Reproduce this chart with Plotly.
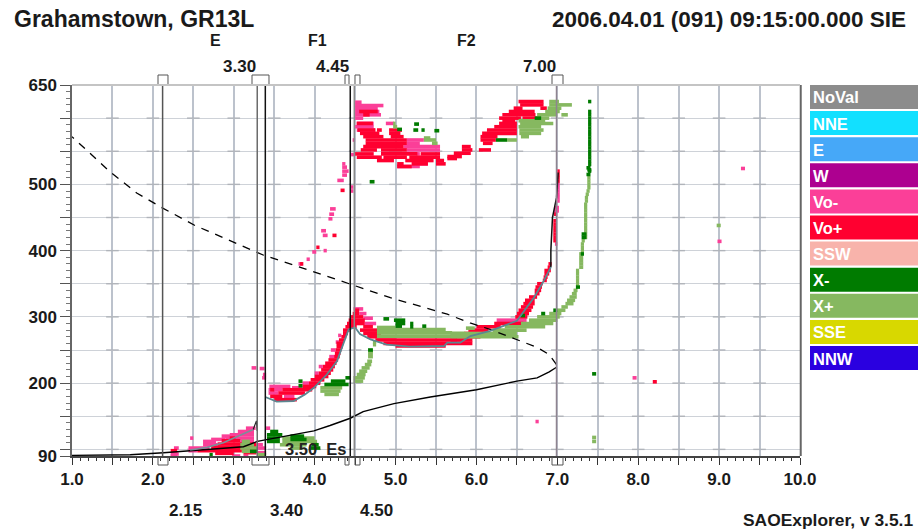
import plotly.graph_objects as go

# ---- data -------------------------------------------------------------
TITLE = "Grahamstown, GR13L"
STAMP = "2006.04.01 (091) 09:15:00.000 SIE"
FOOTER = "SAOExplorer, v 3.5.1"
X_TICKS = [1 + 0.5 * i for i in range(19)]
X_LABELS = ["%.1f" % v if v == int(v) else "" for v in X_TICKS]
Y_TICKS = [90] + [100 + 50 * i for i in range(12)]
Y_LABELS = {90: "90", 200: "200", 300: "300", 400: "400", 500: "500", 650: "650"}
LEGEND_NAMES = ["NoVal", "NNE", "E", "W", "Vo-", "Vo+", "SSW", "X-", "X+", "SSE", "NNW"]
LEGEND_COLORS = ["#8c8c8c", "#12e0ff", "#46a8f8", "#ad0090", "#fb3f98", "#ff0030",
                 "#f8b3ab", "#007b00", "#86b860", "#d8d800", "#2a00e0"]

# critical frequencies as drawn: (frequency, line colour)
CRITICAL = [(2.12, "#555555"), (3.29, "#6b6b6b"), (3.39, "#111111"),
            (4.44, "#111111"), (4.49, "#8a8a8a"), (6.99, "#8f8490")]

# echo rows: (virtual height km, f start MHz, f end MHz)
VO_MINUS = [
    # E layer
    (90,2.22,2.3),(93,2.22,2.32),(102,2.26,2.32),(117,2.46,2.5),(112,2.62,2.78),(107,2.62,2.8),
    (102,2.44,2.7),(98,2.44,2.55),(115,2.72,2.9),(120,2.85,3.0),(122,2.95,3.25),(127,3.05,3.25),
    (132,3.15,3.27),(117,2.9,3.25),(112,3.08,3.25),(90,2.98,3.08),(90,3.12,3.18),
    (102,3.3,3.4),(107,3.3,3.36),(95,3.3,3.4),(132,3.4,3.45),
    # low F
    (208,3.35,3.4),(213,3.36,3.4),(223,3.22,3.28),(222,3.32,3.38),
    (185,3.43,3.55),(190,3.43,3.6),(195,3.44,3.7),(193,3.72,3.85),(180,3.62,3.75),(200,3.85,3.93),
    (215,4.0,4.05),(225,4.05,4.1),(240,4.18,4.24),(250,4.2,4.26),(262,4.26,4.3),(272,4.29,4.33),
    (312,4.48,4.6),(305,4.55,4.64),(298,4.6,4.72),(290,4.62,4.76),
    # faint trail
    (380,3.8,3.85),(387,3.9,3.94),(398,3.97,4.02),(400,4.11,4.15),(423,4.1,4.16),(430,4.08,4.14),
    (448,4.17,4.22),(455,4.18,4.24),(463,4.19,4.26),(506,4.28,4.36),(514,4.34,4.4),(520,4.34,4.42),
    (526,4.34,4.4),(531,4.34,4.38),(496,4.44,4.48),(490,4.44,4.48),(545,4.45,4.5),(567,4.47,4.5),
    # F2 cluster
    (624,4.5,4.58),(619,4.5,4.85),(615,4.5,4.78),(610,4.5,4.8),(605,4.5,4.82),(600,4.5,4.6),
    (592,4.52,4.73),(592,4.88,4.98),(587,4.5,4.73),(582,4.52,4.75),(567,5.14,5.35),(562,5.14,5.3),
    (557,5.1,5.55),(552,5.14,5.55),(546,5.26,5.3),(531,5.2,5.4),(527,5.02,5.3),
    # F2 right
    (475,7.0,7.03),(480,7.0,7.03),(485,7.0,7.03),(490,7.0,7.03),(495,7.0,7.03),
    (500,7.0,7.03),(455,6.96,7.0),(460,6.96,7.02),(465,6.97,7.02),(410,6.97,7.0),(295,6.25,6.62),
    (524,9.27,9.32),(414,8.98,9.03),(208,7.93,7.98),(142,6.73,6.77),
]
VO_PLUS = [
    # E layer
    (98,2.22,2.3),(94,2.77,3.0),(98,2.55,3.1),(103,2.72,3.2),(108,2.8,3.1),(108,3.18,3.28),
    (113,2.85,3.08),(117,2.95,3.02),(95,3.12,3.28),(100,3.1,3.28),(105,3.12,3.28),
    # F1 branch
    (175,3.5,3.78),(180,3.45,3.6),(185,3.55,3.88),(190,3.45,3.5),(190,3.6,3.97),(195,3.85,4.02),
    (200,3.93,4.07),(205,3.95,4.12),(210,4.0,4.17),(215,4.05,4.2),(220,4.08,4.23),(225,4.1,4.25),
    (230,4.13,4.27),(235,4.17,4.29),(240,4.24,4.31),(245,4.25,4.32),(250,4.26,4.33),(255,4.27,4.35),
    (260,4.27,4.36),(265,4.3,4.37),(270,4.33,4.39),(275,4.35,4.41),(280,4.35,4.43),(285,4.38,4.52),
    (285,4.6,4.72),(290,4.4,4.62),(295,4.42,4.62),(300,4.45,4.6),(305,4.47,4.55),(310,4.5,4.55),
    # F2 trace
    (280,4.56,4.78),(275,4.6,4.82),(270,4.65,5.0),(265,4.75,5.76),(260,4.85,5.95),(256,5.0,5.62),
    (265,5.68,5.95),(270,5.75,6.05),(275,5.85,6.08),(280,5.9,6.15),(285,6.0,6.3),(290,6.22,6.58),
    (300,6.48,6.63),(305,6.5,6.65),(310,6.52,6.68),(315,6.55,6.7),(320,6.58,6.72),(325,6.6,6.72),
    (330,6.65,6.75),(335,6.72,6.78),(340,6.72,6.8),(345,6.73,6.81),(350,6.75,6.82),(355,6.82,6.87),
    (360,6.83,6.88),(365,6.84,6.9),(370,6.84,6.92),(375,6.88,6.92),(380,6.89,6.93),
    (415,6.95,6.99),(420,6.95,6.99),(425,6.95,6.99),(430,6.95,6.99),(435,6.95,6.99),(440,6.95,6.99),
    (445,6.95,6.99),(455,6.96,6.99),(505,7.0,7.03),(510,7.0,7.03),(515,7.0,7.03),(520,7.0,7.03),
    # F2 high, right
    (625,6.52,6.83),(620,6.54,6.83),(615,6.46,6.57),(615,6.79,6.87),(610,6.4,6.72),(605,6.32,6.73),
    (600,6.28,6.55),(600,6.57,6.75),(596,6.32,6.48),(592,6.28,6.5),(587,6.22,6.5),(582,6.13,6.5),
    (577,6.07,6.5),(572,6.05,6.26),(567,6.05,6.24),(562,6.08,6.2),(557,5.82,5.93),(552,5.82,5.95),
    (552,6.03,6.18),(547,5.72,5.93),(542,5.64,5.82),(539,5.64,5.76),
    # F2 high, left
    (610,4.55,4.78),(605,4.6,4.68),(592,4.52,4.72),(582,4.53,4.75),(582,4.77,4.83),(582,4.92,5.08),
    (577,4.56,4.8),(577,4.92,5.06),(572,4.6,4.85),(572,4.94,5.1),(567,4.63,5.14),(562,4.63,5.14),
    (557,4.6,5.1),(552,4.57,4.77),(552,4.82,5.14),(546,4.5,4.73),(546,4.82,5.27),(546,5.31,5.55),
    (541,4.52,4.83),(541,4.85,5.14),(541,5.17,5.55),(536,4.77,4.98),(536,5.12,5.47),(536,5.5,5.6),
    (531,5.02,5.1),(531,5.2,5.4),(531,5.5,5.62),(527,5.02,5.2),
    (380,3.82,3.86),(405,4.02,4.06),(423,4.22,4.27),(491,4.32,4.37),(202,8.18,8.23),
]
X_PLUS = [
    # E layer
    (92,3.3,3.4),(97,3.1,3.28),(102,3.08,3.3),(107,3.08,3.25),(112,3.1,3.2),(117,3.6,4.0),
    (112,3.6,4.03),(107,3.57,3.9),(102,3.7,3.85),
    # F1 branch
    (183,4.12,4.3),(188,4.07,4.32),(193,4.07,4.34),(198,4.22,4.3),(203,4.48,4.6),(208,4.48,4.62),
    (213,4.52,4.63),(218,4.55,4.65),(223,4.58,4.68),(228,4.62,4.7),(233,4.65,4.71),(240,4.66,4.72),
    (245,4.66,4.72),(248,4.68,4.72),(258,4.72,4.76),(262,4.72,4.76),
    # F2 band
    (271,4.77,5.72),(276,4.77,5.7),(281,4.77,5.62),(284,4.77,5.0),(275,5.7,5.86),(283,5.87,5.98),
    (270,5.68,6.52),(275,5.68,6.5),(280,6.2,6.62),(285,6.35,6.85),(290,6.55,6.95),(295,6.65,7.0),
    (300,6.75,7.03),(305,6.9,7.05),(310,7.0,7.1),(315,7.05,7.13),(320,7.1,7.2),(325,7.12,7.22),
    (330,7.15,7.24),(335,7.18,7.24),(340,7.2,7.25),(345,7.23,7.25),(350,7.23,7.27),(355,7.23,7.27),
    (360,7.23,7.27),(365,7.23,7.27),(370,7.23,7.27),(375,7.27,7.32),(380,7.27,7.32),(385,7.27,7.32),
    (390,7.27,7.32),(395,7.27,7.32),(400,7.29,7.33),(405,7.29,7.33),(410,7.29,7.33),(415,7.3,7.34),
    (420,7.33,7.37),(425,7.33,7.37),(430,7.33,7.37),(435,7.33,7.37),(440,7.33,7.37),(445,7.33,7.37),
    (450,7.33,7.37),(455,7.33,7.37),(460,7.33,7.37),(465,7.33,7.37),(470,7.33,7.37),(475,7.34,7.38),
    (480,7.34,7.38),(485,7.35,7.39),(490,7.36,7.4),(495,7.37,7.41),(500,7.37,7.41),(505,7.37,7.41),
    (510,7.37,7.41),
    # F2 high
    (625,6.9,7.02),(620,6.9,7.18),(615,6.88,7.05),(610,6.85,7.03),(605,6.75,7.0),(600,6.75,6.9),
    (596,6.52,6.85),(592,6.54,6.95),(587,6.52,6.8),(582,6.53,6.83),(577,6.53,6.8),(572,6.55,6.65),
    (567,6.38,6.5),(605,7.05,7.13),
    (438,8.97,9.02),(118,7.43,7.48),(112,7.43,7.48),(592,4.97,5.0),(587,4.97,5.02),
    (570,5.35,5.43),(567,5.35,5.5),(562,5.45,5.52),
]
X_MINUS = [
    (92,2.7,2.74),(112,3.41,3.57),(117,3.41,3.57),(122,3.41,3.6),(127,3.45,3.55),(120,3.7,3.87),
    (115,3.7,3.9),(102,3.95,4.07),(107,3.96,4.05),(97,3.2,3.3),
    (198,4.12,4.42),(203,4.2,4.38),(208,4.38,4.44),(196,3.8,3.85),(203,3.8,3.85),(250,4.66,4.72),
    (297,4.85,4.92),(295,4.98,5.12),(290,5.0,5.12),(286,5.0,5.08),(290,5.18,5.22),(285,5.18,5.22),
    (286,5.33,5.38),(302,6.55,6.6),(305,6.8,6.85),(310,6.95,7.0),
    (345,7.23,7.28),(425,7.3,7.36),(420,7.3,7.36),(395,7.29,7.33),(520,7.38,7.42),
    (515,7.36,7.41),(525,7.36,7.41),(530,7.38,7.42),(535,7.38,7.42),(540,7.38,7.42),(545,7.38,7.42),
    (550,7.38,7.42),(555,7.38,7.42),(560,7.38,7.42),(565,7.38,7.42),(570,7.38,7.42),(575,7.38,7.42),
    (580,7.38,7.42),(585,7.38,7.42),(590,7.38,7.42),(595,7.38,7.42),(600,7.38,7.42),(605,7.38,7.42),
    (610,7.38,7.42),(625,7.38,7.42),(504,4.68,4.74),(591,5.23,5.29),(583,5.02,5.08),(581,5.48,5.54),
    (582,5.22,5.28),(582,5.32,5.36),(567,6.24,6.38),(600,6.72,6.8),(214,7.43,7.48),(522,7.37,7.42),
]

# traces
TRACE_E_F = [2.46, 2.67, 2.87, 3.06, 3.24]
TRACE_E_H = [99, 103, 110, 120, 130]
TRACE_F_F = [3.39, 3.53, 3.74, 3.88, 3.99, 4.15, 4.275, 4.36, 4.42, 4.5, 4.56, 4.69, 4.89, 5.18, 5.6, 5.64,
             5.8, 5.925, 6.17, 6.5, 6.71, 6.83, 6.92]
TRACE_F_H = [179, 172, 173, 183, 193, 213, 233, 263, 281, 284, 274, 266, 258, 255, 256, 261,
             261, 271, 279, 294, 329, 354, 375]
TOP_TRACE_F = [6.92, 6.92, 6.94, 6.99, 7.01]
TOP_TRACE_H = [375, 400, 450, 480, 518]
SPIKE_F = [3.24, 3.28, 3.29]
SPIKE_H = [130, 143, 128]
PROFILE_F = [1.0, 1.72, 2.13, 2.46, 3.12, 3.29, 3.7, 3.99, 4.19, 4.44, 4.6, 4.98, 5.43, 6.0, 6.5, 6.75, 6.9, 6.99]
PROFILE_H = [91, 92, 95, 98, 104, 112, 122, 128, 136, 147, 157, 169, 179, 190, 203, 208, 217, 224]
DASH_F = [6.99, 6.9, 6.75, 6.5, 6.17, 5.92, 5.64, 4.935, 4.48, 4.44, 3.99, 3.37, 3.0, 2.52, 2.11, 1.8, 1.47, 1.0]
DASH_H = [228, 243, 254, 266, 281, 291, 304, 329, 348, 350, 368, 393, 413, 438, 465, 487, 519, 572]

# ---- layout helpers ----------------------------------------------------
W, H = 920, 531
L, R, T, B = 72, 800, 85, 456


def px(x):
    return (x - L) / (R - L)


def py(y):
    return (B - y) / (B - T)


def rows_to_xy(rows):
    xs, ys = [], []
    for h, a, b in rows:
        xs += [a, b, None]
        ys += [h, h, None]
    return xs, ys


fig = go.Figure()
# little dashes where the grid crosses
cross_x = [v for v in X_TICKS[1:-1] for _ in Y_TICKS[1:-1]]
cross_y = [v for _ in X_TICKS[1:-1] for v in Y_TICKS[1:-1]]
fig.add_trace(go.Scatter(x=cross_x, y=cross_y, mode="markers", hoverinfo="skip",
                         marker=dict(symbol="line-ew", size=9, line=dict(color="#b0b4ba", width=1.4))))
for rows, col in [(VO_MINUS, LEGEND_COLORS[4]), (VO_PLUS, LEGEND_COLORS[5]),
                  (X_PLUS, LEGEND_COLORS[8]), (X_MINUS, LEGEND_COLORS[7])]:
    xs, ys = rows_to_xy(rows)
    fig.add_trace(go.Scatter(x=xs, y=ys, mode="lines", line=dict(color=col, width=3.6), hoverinfo="skip"))

for f, h, col, w, dash in [
    (PROFILE_F, PROFILE_H, "#000000", 1.4, "solid"),
    (DASH_F, DASH_H, "#000000", 1.3, "8px,7px"),
    (TOP_TRACE_F, TOP_TRACE_H, "#111111", 1.5, "solid"),
    (SPIKE_F, SPIKE_H, "#222222", 1.2, "solid"),
    (TRACE_F_F, TRACE_F_H, "#5b8791", 1.8, "solid"),
    (TRACE_E_F, TRACE_E_H, "#7b8e9a", 1.6, "solid"),
]:
    fig.add_trace(go.Scatter(x=f, y=h, mode="lines", line=dict(color=col, width=w, dash=dash), hoverinfo="skip"))

shapes = []
annots = []


def text(x, y, s, size=15, anchor="center", color="#1a1a1a"):
    annots.append(dict(x=px(x), y=py(y), xref="paper", yref="paper", text="<b>%s</b>" % s, showarrow=False,
                       xanchor=anchor, yanchor="middle", align="left",
                       font=dict(family="Liberation Sans", size=size, color=color)))


for f, col in CRITICAL:
    shapes.append(dict(type="line", xref="x", yref="paper", x0=f, x1=f, y0=0, y1=1,
                       line=dict(color=col, width=1.5), layer="above"))


def bracket(x0, x1):
    for y0, y1 in [(84, 75), (457, 465)]:
        shapes.append(dict(type="path", xref="paper", yref="paper",
                           path="M %f,%f L %f,%f L %f,%f L %f,%f" % (
                               px(x0), py(y0), px(x0), py(y1), px(x1), py(y1), px(x1), py(y0)),
                           line=dict(color="#555555", width=1)))


for a, b in [(158, 168), (252, 269), (345, 349), (355, 360), (552, 563)]:
    bracket(a, b)

for i, (name, col) in enumerate(zip(LEGEND_NAMES, LEGEND_COLORS)):
    y0 = 85 + i * 26.1
    shapes.append(dict(type="rect", xref="paper", yref="paper", x0=px(810), x1=px(918), y0=py(y0), y1=py(y0 + 24),
                       fillcolor=col, line=dict(width=0)))
    text(811, y0 + 12.5, name, size=16.5, anchor="left", color="#ffffff")

text(12, 19, TITLE, size=23, anchor="left", color="#1a1a1a")
text(908, 19, STAMP, size=22.5, anchor="right", color="#1a1a1a")
text(215, 41, "E", 16)
text(317, 41, "F1", 16)
text(466, 41, "F2", 16)
text(239, 66, "3.30", 17)
text(332, 66, "4.45", 17)
text(539, 66, "7.00", 17)
text(185, 510, "2.15", 17)
text(286, 510, "3.40", 17)
text(376, 510, "4.50", 17)
text(283, 449, "3.50&nbsp;&nbsp;Es", 16.5, anchor="left", color="#222222")
text(915, 520, FOOTER, 17.4, anchor="right")

fig.update_layout(
    width=W, height=H, showlegend=False, paper_bgcolor="white", plot_bgcolor="white",
    margin=dict(l=L, r=W - R, t=T, b=H - B, pad=0, autoexpand=False),
    shapes=shapes, annotations=annots,
    font=dict(family="Liberation Sans", color="#1a1a1a"),
    xaxis=dict(range=[1, 10], tickmode="array", tickvals=X_TICKS, ticktext=["<b>%s</b>" % s for s in X_LABELS],
               tickfont=dict(size=17), ticks="outside", ticklen=7, tickcolor="#333", showline=True, linecolor="#444",
               linewidth=1.5, mirror=False, gridcolor="#bcc2cc", gridwidth=1.6, zeroline=False,
               minor=dict(dtick=0.1, ticks="outside", ticklen=3, tickcolor="#333", showgrid=False)),
    yaxis=dict(range=[90, 650], tickmode="array", tickvals=Y_TICKS,
               ticktext=["<b>%s</b>" % Y_LABELS.get(v, "") for v in Y_TICKS],
               tickfont=dict(size=17), ticks="outside", ticklen=10, tickcolor="#555", showline=True, linecolor="#666",
               linewidth=1.5, gridcolor="#ced2d8", gridwidth=1.2, zeroline=False,
               minor=dict(dtick=10, ticks="outside", ticklen=4, tickcolor="#777", showgrid=False)),
)
# right and top frame lines
fig.add_shape(type="line", xref="paper", yref="paper", x0=1.001, x1=1.001, y0=0, y1=1, line=dict(color="#666666", width=2))
fig.add_shape(type="line", xref="paper", yref="paper", x0=0, x1=1, y0=1, y1=1, line=dict(color="#c4c4c4", width=2))

fig.write_html("out.html", config=dict(displayModeBar=False), post_script="document.body.style.margin='0';")
